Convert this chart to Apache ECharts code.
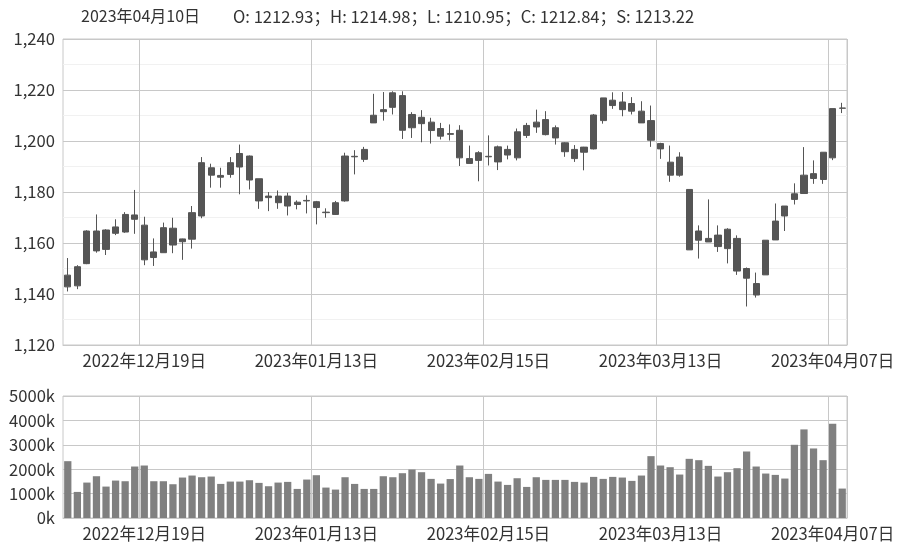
<!DOCTYPE html>
<html>
<head>
<meta charset="utf-8">
<script src="https://cdn.jsdelivr.net/npm/echarts/dist/echarts.min.js"></script>
<style>html,body{margin:0;padding:0;background:#fff;}#c{width:900px;height:550px;}</style>
</head>
<body>
<div id="c"></div>
<script>
const dates = [
 '2022年12月07日','2022年12月08日','2022年12月09日','2022年12月12日','2022年12月13日','2022年12月14日','2022年12月15日','2022年12月16日',
 '2022年12月19日','2022年12月20日','2022年12月21日','2022年12月22日','2022年12月23日','2022年12月26日','2022年12月27日','2022年12月28日','2022年12月29日','2022年12月30日',
 '2023年01月03日','2023年01月04日','2023年01月05日','2023年01月06日','2023年01月09日','2023年01月10日','2023年01月11日','2023年01月12日','2023年01月13日',
 '2023年01月16日','2023年01月17日','2023年01月18日','2023年01月19日','2023年01月20日','2023年01月30日','2023年01月31日','2023年02月01日','2023年02月02日','2023年02月03日',
 '2023年02月06日','2023年02月07日','2023年02月08日','2023年02月09日','2023年02月10日','2023年02月13日','2023年02月14日','2023年02月15日',
 '2023年02月16日','2023年02月17日','2023年02月20日','2023年02月21日','2023年02月22日','2023年02月23日','2023年02月24日','2023年02月27日','2023年02月28日','2023年03月01日','2023年03月02日','2023年03月03日',
 '2023年03月06日','2023年03月07日','2023年03月08日','2023年03月09日','2023年03月10日','2023年03月13日',
 '2023年03月14日','2023年03月15日','2023年03月16日','2023年03月17日','2023年03月20日','2023年03月21日','2023年03月22日','2023年03月23日','2023年03月24日',
 '2023年03月27日','2023年03月28日','2023年03月29日','2023年03月30日','2023年03月31日','2023年04月03日','2023年04月04日','2023年04月06日','2023年04月07日','2023年04月10日'
];
const openV = [1142.8,1143.2,1151.9,1164.7,1157.5,1163.8,1164.3,1171.0,1167.0,1154.3,1156.2,1165.8,1160.5,1161.5,1170.6,1189.5,1186.5,1186.9,1189.8,1194.1,1185.2,1178.4,1178.4,1178.4,1176.0,1176.5,1176.2,1172.1,1171.2,1176.5,1193.8,1192.8,1207.1,1211.5,1213.2,1217.8,1205.2,1209.3,1207.4,1204.9,1202.9,1204.2,1193.1,1192.4,1193.8,1191.8,1196.7,1193.4,1202.2,1205.5,1208.4,1205.2,1199.3,1196.7,1195.6,1196.9,1208.0,1213.9,1215.3,1214.7,1211.7,1208.0,1199.0,1191.7,1186.6,1181.0,1161.1,1161.8,1158.6,1165.4,1161.8,1150.0,1144.1,1147.5,1161.2,1170.6,1177.1,1179.4,1185.3,1184.9,1193.4,1212.93];
const closeV = [1147.4,1150.7,1164.7,1156.9,1165.1,1166.3,1171.2,1169.3,1153.4,1156.5,1166.0,1159.2,1161.6,1171.9,1191.5,1186.6,1185.8,1191.5,1195.1,1184.7,1176.5,1177.8,1175.8,1174.5,1175.1,1176.7,1173.9,1171.9,1175.8,1194.1,1194.0,1196.7,1210.1,1212.3,1218.9,1204.2,1210.4,1206.8,1204.1,1201.9,1202.6,1193.4,1191.2,1195.4,1194.0,1197.7,1194.5,1203.6,1206.1,1207.4,1202.5,1201.2,1195.8,1193.1,1197.6,1210.2,1216.9,1216.0,1212.3,1211.7,1207.1,1200.3,1196.9,1186.6,1193.7,1157.3,1164.7,1160.4,1163.1,1157.8,1149.0,1146.2,1139.6,1161.1,1168.6,1174.5,1179.3,1186.6,1187.2,1195.6,1212.7,1212.84];
const lowV = [1141.0,1141.9,1151.7,1156.2,1155.3,1163.1,1164.0,1163.6,1151.3,1151.0,1156.2,1156.0,1153.4,1157.8,1169.7,1181.7,1181.7,1185.6,1179.1,1181.0,1173.4,1172.5,1173.4,1170.8,1173.2,1171.6,1167.3,1169.9,1171.0,1176.2,1186.9,1191.8,1207.1,1208.0,1210.4,1200.8,1201.2,1199.5,1199.0,1200.6,1200.2,1190.2,1191.2,1184.2,1190.4,1188.6,1192.8,1192.4,1201.2,1203.2,1202.2,1198.6,1193.8,1191.8,1188.5,1196.7,1206.8,1212.6,1209.7,1210.4,1207.1,1197.7,1193.0,1184.0,1186.0,1157.3,1153.9,1160.4,1156.5,1152.0,1147.5,1135.1,1138.6,1147.5,1161.2,1164.7,1175.1,1179.4,1183.2,1183.2,1192.5,1210.95];
const highV = [1154.1,1151.3,1165.0,1171.2,1165.4,1169.3,1172.1,1180.8,1170.3,1161.8,1168.0,1169.9,1161.7,1174.5,1193.7,1191.1,1189.5,1193.7,1198.6,1194.3,1185.2,1180.0,1180.6,1179.7,1176.7,1178.7,1176.5,1173.6,1176.5,1195.4,1196.4,1197.7,1218.5,1219.2,1219.5,1219.5,1211.3,1212.1,1209.1,1207.1,1206.5,1206.2,1198.2,1196.0,1202.2,1198.2,1198.2,1204.9,1207.1,1212.3,1211.7,1206.1,1199.5,1198.4,1197.7,1210.6,1216.9,1219.1,1219.2,1217.2,1215.6,1213.9,1199.3,1198.2,1195.6,1181.0,1166.9,1177.1,1166.9,1165.8,1163.0,1150.4,1148.4,1161.1,1175.5,1174.5,1183.4,1197.6,1192.4,1195.6,1212.7,1214.98];
const volumeV = [2329000,1069000,1452000,1712000,1288000,1534000,1507000,2110000,2151000,1507000,1507000,1384000,1658000,1740000,1671000,1699000,1397000,1493000,1493000,1548000,1439000,1302000,1452000,1480000,1192000,1576000,1754000,1247000,1165000,1671000,1397000,1192000,1192000,1712000,1671000,1836000,1987000,1877000,1603000,1411000,1596000,2151000,1671000,1603000,1808000,1493000,1356000,1630000,1274000,1671000,1562000,1562000,1562000,1480000,1452000,1685000,1603000,1685000,1658000,1521000,1740000,2535000,2151000,2082000,1781000,2425000,2370000,2137000,1699000,1877000,2041000,2726000,2110000,1822000,1767000,1617000,3000000,3631000,2850000,2370000,3863000,1206000];
const settleLast = 1213.22;
const priceTicks = {min: 1120, max: 1240, interval: 20};
const volTicks = {min: 0, max: 5000000, interval: 1000000};

const candleData = dates.map((d, i) => [openV[i], closeV[i], lowV[i], highV[i]]);
const last = dates.length - 1;
const headerDate = dates[last];
const headerValues = 'O: ' + openV[last].toFixed(2) + '；H: ' + highV[last].toFixed(2) +
  '；L: ' + lowV[last].toFixed(2) + '；C: ' + closeV[last].toFixed(2) + '；S: ' + settleLast.toFixed(2);

const FONT = '"Noto Sans CJK SC", "Noto Sans", sans-serif';
const FS = 16.6;
const labelInterval = (idx) => (idx - 8) % 18 === 0;
const gridColor = '#c8c8c8';

const xAxisBase = (gi) => ({
  type: 'category', gridIndex: gi, data: dates, boundaryGap: true,
  axisLine: {show: true, lineStyle: {color: gridColor}},
  axisTick: {show: false, interval: labelInterval},
  axisLabel: {interval: labelInterval, color: '#333', fontSize: FS, fontFamily: FONT, margin: 7},
  splitLine: {show: true, interval: labelInterval, lineStyle: {color: gridColor, width: 1}}
});

const chart = echarts.init(document.getElementById('c'), null, {renderer: 'canvas'});
chart.setOption({
  animation: false,
  backgroundColor: '#fff',
  title: [
    {text: headerDate, left: 76, top: 3, textStyle: {fontSize: 16, fontWeight: 'normal', color: '#333', fontFamily: FONT}},
    {text: headerValues, left: 228, top: 3, textStyle: {fontSize: 16.6, fontWeight: 'normal', color: '#333', fontFamily: FONT}}
  ],
  grid: [
    {left: 63, right: 53, top: 39, height: 306, show: true, borderColor: gridColor, borderWidth: 1},
    {left: 63, right: 53, top: 396, height: 122, show: true, borderColor: gridColor, borderWidth: 1}
  ],
  xAxis: [xAxisBase(0), xAxisBase(1)],
  yAxis: [
    {type: 'value', gridIndex: 0, min: priceTicks.min, max: priceTicks.max, interval: priceTicks.interval,
     axisLine: {show: false}, axisTick: {show: false},
     axisLabel: {color: '#333', fontSize: FS, fontFamily: FONT, margin: 8, formatter: v => v.toLocaleString('en-US')},
     splitLine: {lineStyle: {color: gridColor}},
     minorTick: {show: false, splitNumber: 2},
     minorSplitLine: {show: true, lineStyle: {color: '#f1f1f1'}}},
    {type: 'value', gridIndex: 1, min: volTicks.min, max: volTicks.max, interval: volTicks.interval,
     axisLine: {show: false}, axisTick: {show: false},
     axisLabel: {color: '#333', fontSize: FS, fontFamily: FONT, margin: 8, formatter: v => (v / 1000) + 'k'},
     splitLine: {lineStyle: {color: gridColor}}}
  ],
  series: [
    {type: 'candlestick', xAxisIndex: 0, yAxisIndex: 0, data: candleData, barWidth: '70%',
     itemStyle: {color: '#555', color0: '#555', borderColor: '#555', borderColor0: '#555', borderWidth: 1}},
    {type: 'bar', xAxisIndex: 1, yAxisIndex: 1, data: volumeV, barCategoryGap: '24%',
     itemStyle: {color: '#808080'}}
  ]
});
</script>
</body>
</html>
